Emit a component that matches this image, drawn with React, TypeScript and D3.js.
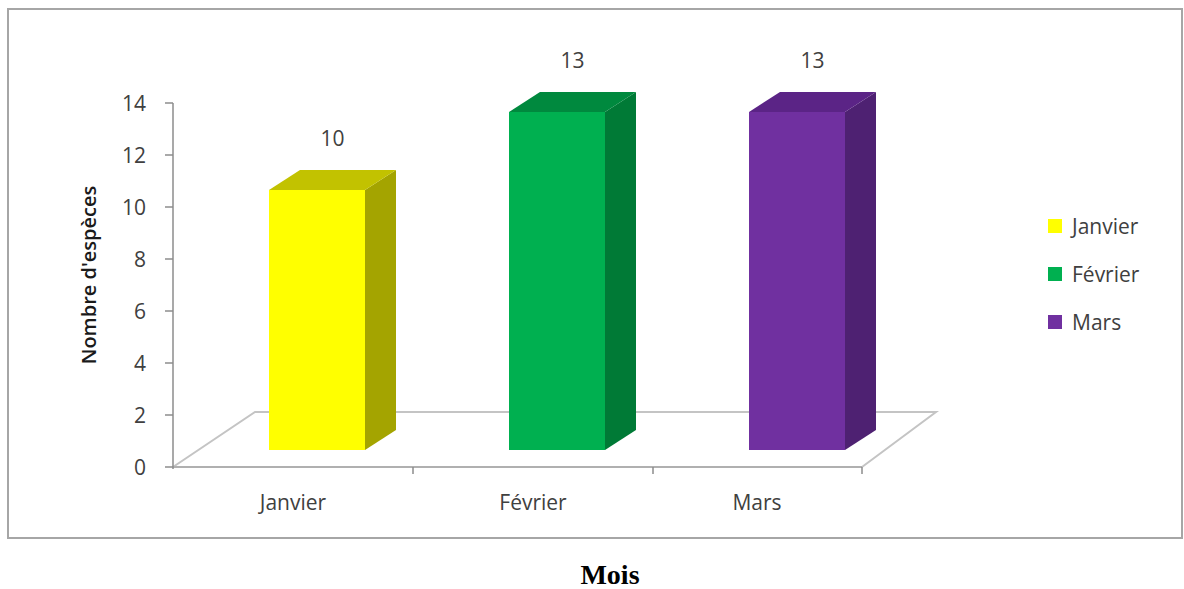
import React from "react";
import * as d3 from "d3";

// Monthly species counts
const months = ["Janvier", "Février", "Mars"];
const counts = [10, 13, 13];
const frontColors = ["#FFFF00", "#00B050", "#7030A0"];
const sideColors = ["#A4A400", "#007A36", "#4E2172"];
const topColors = ["#C2C200", "#00893E", "#5B2486"];
const yTicks = [0, 2, 4, 6, 8, 10, 12, 14];

const W = 1184;
const H = 589;

// Plot frame
const axisX = 173;
const floorRight = 862;
const baseY = 467;
const topY = 103;
const floorDx = 82;
const floorDy = -55;
const barOffsetDy = -17; // bars sit partway into the floor depth
const barDepthDx = 31;
const barDepthDy = -20;
const barWidth = 96;

const FONT = "'Open Sans', 'DejaVu Sans', sans-serif";
const TEXT = "#404040";

export default function App() {
  const x = d3.scaleBand<string>().domain(months).range([axisX, axisX + 240 * months.length]).padding(0);
  const y = d3.scaleLinear().domain([0, 14]).range([baseY, topY]);
  const yBar = (v: number) => y(v) + barOffsetDy;

  const floorPath = d3.path();
  floorPath.moveTo(axisX, baseY);
  floorPath.lineTo(axisX + floorDx, baseY + floorDy);
  floorPath.lineTo(floorRight + floorDx - 8, baseY + floorDy);
  floorPath.lineTo(floorRight, baseY);

  const catTicks = [x(months[1])!, x(months[2])!, floorRight];

  return (
    <svg
      width={W}
      height={H}
      style={{ position: "absolute", left: 0, top: 0, background: "#fff" }}
      fontFamily={FONT}
    >
      {/* chart frame */}
      <rect x={8} y={9} width={1174} height={529} fill="#fff" stroke="#a6a6a6" strokeWidth={2} />

      {/* floor */}
      <path d={floorPath.toString()} fill="none" stroke="#c4c4c4" strokeWidth={2} />
      <line x1={axisX} x2={floorRight} y1={baseY} y2={baseY} stroke="#b0b0b0" strokeWidth={2} />

      {/* value axis */}
      <line x1={axisX} x2={axisX} y1={y(14)} y2={y(0) + 2} stroke="#8c8c8c" strokeWidth={1.5} />
      {yTicks.map((t) => (
        <g key={t}>
          <line x1={axisX - 8} x2={axisX} y1={y(t)} y2={y(t)} stroke="#8c8c8c" strokeWidth={1.5} />
          <text x={146} y={y(t)} dy="0.36em" textAnchor="end" fontSize={21} fill={TEXT}>
            {t}
          </text>
        </g>
      ))}

      {/* category ticks and labels */}
      {catTicks.map((cx, i) => (
        <line key={i} x1={cx} x2={cx} y1={baseY} y2={baseY + 7} stroke="#8c8c8c" strokeWidth={1.5} />
      ))}
      {months.map((m, i) => (
        <text
          key={m}
          x={x(m)! + x.bandwidth() / 2 - (i === 2 ? 16 : 0)}
          y={510}
          textAnchor="middle"
          fontSize={21}
          fill={TEXT}
        >
          {m}
        </text>
      ))}

      {/* 3D bars */}
      {months.map((m, i) => {
        const xl = x(m)! + x.bandwidth() / 2 - barWidth / 2 + 24;
        const xr = xl + barWidth;
        const top = yBar(counts[i]);
        const bottom = yBar(0);
        const side = `${xr},${top} ${xr + barDepthDx},${top + barDepthDy} ${xr + barDepthDx},${bottom + barDepthDy} ${xr},${bottom}`;
        const lid = `${xl},${top} ${xl + barDepthDx},${top + barDepthDy} ${xr + barDepthDx},${top + barDepthDy} ${xr},${top}`;
        return (
          <g key={m}>
            <polygon points={side} fill={sideColors[i]} />
            <polygon points={lid} fill={topColors[i]} />
            <rect x={xl} y={top} width={barWidth} height={bottom - top} fill={frontColors[i]} />
            <text
              x={xl + (barWidth + barDepthDx) / 2}
              y={top - 44}
              textAnchor="middle"
              fontSize={21}
              fill={TEXT}
            >
              {counts[i]}
            </text>
          </g>
        );
      })}

      {/* axis title */}
      <text
        transform={`translate(96, ${275}) rotate(-90)`}
        textAnchor="middle"
        fontSize={20}
        fontWeight={600}
        fill="#1a1a1a"
      >
        Nombre d'espèces
      </text>

      {/* legend */}
      {months.map((m, i) => (
        <g key={m} transform={`translate(1048, ${226 + i * 48})`}>
          <rect x={0} y={-7} width={14} height={14} fill={frontColors[i]} />
          <text x={24} y={0} dy="0.36em" fontSize={21} fill={TEXT}>
            {m}
          </text>
        </g>
      ))}

      {/* x-axis caption */}
      <text
        x={610}
        y={584}
        textAnchor="middle"
        fontSize={28}
        fontWeight="bold"
        fontFamily="'Liberation Serif', 'Times New Roman', serif"
        fill="#000"
      >
        Mois
      </text>
    </svg>
  );
}
